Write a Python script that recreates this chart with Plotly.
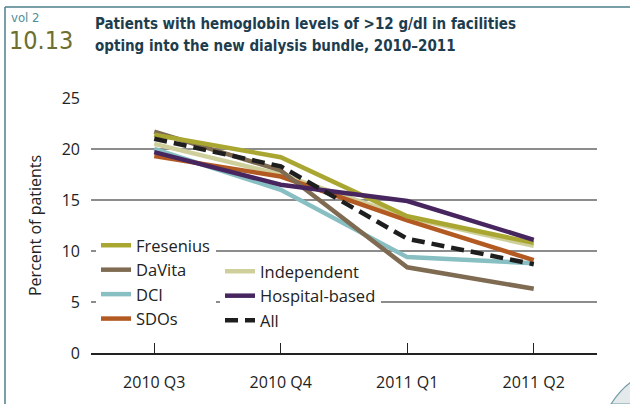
import plotly.graph_objects as go

quarters = ["2010 Q3", "2010 Q4", "2011 Q1", "2011 Q2"]
fresenius = [21.4, 19.2, 13.4, 10.8]
davita = [21.7, 17.9, 8.4, 6.3]
independent = [20.5, 17.5, 13.3, 10.5]
dci = [20.0, 16.0, 9.4, 8.8]
hospital = [19.7, 16.5, 14.9, 11.1]
sdos = [19.3, 17.3, 13.0, 9.1]
all_units = [21.0, 18.3, 11.2, 8.7]

W, H = 630, 404
L, R, T, B = 91, 597, 98, 353


def px(x):
    return (x - L) / (R - L)


def py(y):
    return (B - y) / (B - T)


FONT = "Open Sans"
COND = "DejaVu Sans Condensed, DejaVu Sans"
fig = go.Figure()

series = [
    ("Independent", independent, "#cfcf9b", "solid", "legend2", 1),
    ("DCI", dci, "#88bfc3", "solid", "legend", 3),
    ("SDOs", sdos, "#b35a22", "solid", "legend", 4),
    ("DaVita", davita, "#7e6b52", "solid", "legend", 2),
    ("Fresenius", fresenius, "#a9a731", "solid", "legend", 1),
    ("Hospital-based", hospital, "#47255f", "solid", "legend2", 2),
    ("All", all_units, "#1e1e1e", "13px,7px", "legend2", 3),
]
for name, vals, col, dash, lg, rank in series:
    fig.add_trace(go.Scatter(
        x=quarters, y=vals, name=name, mode="lines",
        line=dict(color=col, width=4.5, dash=dash),
        legend=lg, legendrank=rank,
    ))

leg_common = dict(bgcolor="white", font=dict(family=FONT, size=16.5, color="#222"),
                  xanchor="left", yanchor="top", itemwidth=30,
                  traceorder="normal")

frame_col = "#4d7f8c"
shapes = [
    dict(type="line", xref="paper", yref="paper", x0=px(5), x1=px(5), y0=py(7), y1=py(404),
         line=dict(color=frame_col, width=1.5)),
    dict(type="line", xref="paper", yref="paper", x0=px(5), x1=px(630), y0=py(7), y1=py(7),
         line=dict(color=frame_col, width=1.5)),
    dict(type="path", xref="paper", yref="paper",
         path=f"M {px(611)} {py(404)} Q {px(620)} {py(390)} {px(631)} {py(382)} L {px(631)} {py(404)} Z",
         fillcolor="#e4eaec", line=dict(color="#6f9aa6", width=1.2)),
]

annotations = [
    dict(text="vol 2", x=px(9), y=py(17), xref="paper", yref="paper", xanchor="left", yanchor="middle",
         showarrow=False, font=dict(family=COND, size=13, color="#4f8e9c")),
    dict(text="10.13", x=px(7), y=py(41), xref="paper", yref="paper", xanchor="left", yanchor="middle",
         showarrow=False, font=dict(family=COND, size=25, color="#6e6e2e")),
    dict(text="<b>Patients with hemoglobin levels of >12 g/dl in facilities</b>", x=px(93), y=py(24),
         xref="paper", yref="paper", xanchor="left", yanchor="middle", showarrow=False,
         font=dict(family=COND, size=15, color="#1d3d4f")),
    dict(text="<b>opting into the new dialysis bundle, 2010–2011</b>", x=px(93), y=py(46),
         xref="paper", yref="paper", xanchor="left", yanchor="middle", showarrow=False,
         font=dict(family=COND, size=15, color="#1d3d4f")),
    dict(text="Percent of patients", x=px(35), y=py(226), xref="paper", yref="paper",
         xanchor="center", yanchor="middle", textangle=-90, showarrow=False,
         font=dict(family=FONT, size=16, color="#222")),
]

fig.update_layout(
    width=W, height=H,
    margin=dict(l=L, r=W - R, t=T, b=H - B, pad=0),
    paper_bgcolor="white", plot_bgcolor="white",
    showlegend=True,
    legend=dict(x=px(96), y=py(228), **leg_common),
    legend2=dict(x=px(220), y=py(254), **leg_common),
    shapes=shapes,
    annotations=annotations,
    xaxis=dict(type="category", range=[-0.5, 3.5], showgrid=False, showline=True,
               linecolor="#222", linewidth=1.5, ticks="inside", ticklen=10, tickwidth=1.2,
               tickcolor="#222", ticklabelstandoff=14,
               tickfont=dict(family=FONT, size=16, color="#222")),
    yaxis=dict(range=[0, 25], dtick=5, showgrid=True, gridcolor="#8c8c8c", gridwidth=1.5,
               zeroline=False, showline=False, ticks="", ticklabelstandoff=10,
               tickfont=dict(family=FONT, size=16, color="#222")),
)

fig.write_html("out.html", config={"displayModeBar": False},
               post_script="document.body.style.margin='0';document.body.style.overflow='hidden';")
